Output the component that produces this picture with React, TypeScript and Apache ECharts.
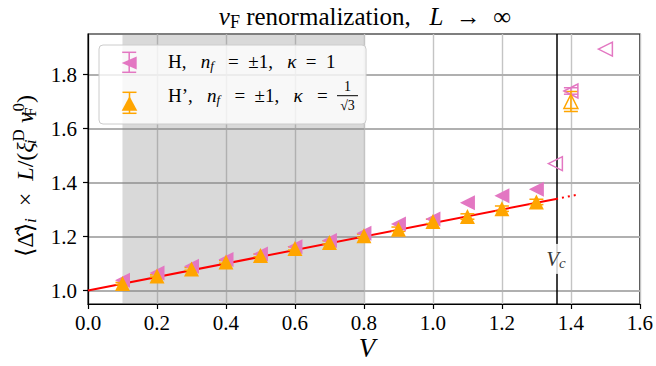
import React, { useEffect, useRef } from "react";
import * as echarts from "echarts";

const SERIF = "'Liberation Serif', 'DejaVu Serif', serif";

// ---- data ----
const V_FILLED = [0.1, 0.2, 0.3, 0.4, 0.5, 0.6, 0.7, 0.8, 0.9, 1.0, 1.1, 1.2, 1.3];
const H_FILLED = [1.038, 1.065, 1.09, 1.115, 1.135, 1.162, 1.185, 1.212, 1.246, 1.265, 1.325, 1.351, 1.375];
const H_OPEN_V = [1.355, 1.4, 1.5];
const H_OPEN = [1.47, 1.739, 1.894];
const H_OPEN_ERR = [0.0, 0.012, 0.0];
const HP_FILLED = [1.026, 1.054, 1.08, 1.106, 1.13, 1.156, 1.178, 1.203, 1.227, 1.256, 1.274, 1.303, 1.328];
const HP_FILLED_ERR = [0.004, 0.004, 0.005, 0.005, 0.005, 0.006, 0.006, 0.006, 0.008, 0.008, 0.01, 0.01, 0.01];
const HP_OPEN_V = [1.4];
const HP_OPEN = [1.7];
const HP_OPEN_ERR = [0.037];
const FIT_INTERCEPT = 1.0;
const FIT_SLOPE = 0.25;
const V_C = 1.357;
const FIT_DOTTED_END = 1.42;
const SHADE_RANGE = [0.1, 0.8];
const Y_TICKS = [1.0, 1.2, 1.4, 1.6, 1.8];
const VC_LABEL_Y = 1.117;

const PINK = "#e377c2";
const ORANGE = "#ffa500";

const fit = (v: number) => FIT_INTERCEPT + FIT_SLOPE * v;

const base = { fontFamily: SERIF, color: "#000" };
const mkRich = (fs: number) => ({
  r: { ...base, fontSize: fs },
  i: { ...base, fontSize: fs, fontStyle: "italic" },
  sub: { ...base, fontSize: Math.round(fs * 0.7), fontStyle: "italic", padding: [Math.round(fs * 0.45), 0, 0, 0] },
  subr: { ...base, fontSize: Math.round(fs * 0.7), padding: [Math.round(fs * 0.45), 0, 0, 0] },
  subw: { ...base, fontSize: Math.round(fs * 0.7), fontStyle: "italic", width: 1, padding: [Math.round(fs * 0.45), 0, 0, 0] },
  subrw: { ...base, fontSize: Math.round(fs * 0.7), width: 1, padding: [Math.round(fs * 0.45), 0, 0, 0] },
  sup: { ...base, fontSize: Math.round(fs * 0.7), padding: [0, 0, Math.round(fs * 0.55), 0] },
});

function errData(xs: number[], ys: number[], es: number[]) {
  return xs.map((x, k) => [x, ys[k] - es[k], ys[k] + es[k]]).filter((d) => d[2] - d[1] > 0);
}

function errSeries(data: number[][], color: string) {
  return {
    type: "custom",
    z: 3,
    silent: true,
    data,
    renderItem: (params: any, api: any) => {
      const x = api.value(0);
      const p1 = api.coord([x, api.value(1)]);
      const p2 = api.coord([x, api.value(2)]);
      const cap = 7;
      const st = { stroke: color, lineWidth: 1.5 };
      return {
        type: "group",
        children: [
          { type: "line", shape: { x1: p1[0], y1: p1[1], x2: p2[0], y2: p2[1] }, style: st },
          { type: "line", shape: { x1: p1[0] - cap, y1: p1[1], x2: p1[0] + cap, y2: p1[1] }, style: st },
          { type: "line", shape: { x1: p2[0] - cap, y1: p2[1], x2: p2[0] + cap, y2: p2[1] }, style: st },
        ],
      };
    },
  };
}

export default function App() {
  const ref = useRef<HTMLDivElement>(null);
  useEffect(() => {
    document.body.style.margin = "0";
    const chart = echarts.init(ref.current!, null, { renderer: "svg" });
    const richLegend = mkRich(19);
    const option: any = {
      animation: false,
      grid: { left: 88, right: 14, top: 34, bottom: 62, show: true, borderColor: "#000", borderWidth: 1.2, backgroundColor: "transparent" },
      xAxis: {
        type: "value",
        min: 0,
        max: 1.6,
        interval: 0.2,
        axisLine: { onZero: false, lineStyle: { color: "#000", width: 1.2 } },
        axisTick: { show: true, inside: false, length: 5, lineStyle: { color: "#000", width: 1.2 } },
        axisLabel: { color: "#000", fontFamily: SERIF, fontSize: 21, margin: 8, formatter: (v: number) => v.toFixed(1) },
        splitLine: { show: true, lineStyle: { color: "#c4c4c4", width: 1.4 } },
      },
      yAxis: {
        type: "value",
        min: 0.95,
        max: 1.95,
        axisLine: { show: true, onZero: false, lineStyle: { color: "#000", width: 1.2 } },
        axisTick: { show: true, inside: false, length: 5, customValues: Y_TICKS, lineStyle: { color: "#000", width: 1.2 } },
        axisLabel: { color: "#000", fontFamily: SERIF, fontSize: 21, margin: 11, customValues: Y_TICKS, formatter: (v: number) => v.toFixed(1) },
        splitLine: { show: false },
      },
      series: [
        {
          name: "grid",
          type: "line",
          data: [],
          silent: true,
          markLine: {
            z: 0,
            silent: true,
            symbol: "none",
            label: { show: false },
            lineStyle: { color: "#b0b0b0", width: 2, type: "solid" },
            data: Y_TICKS.map((y) => ({ yAxis: y })),
          },
          markArea: {
            z: 1,
            silent: true,
            itemStyle: { color: "rgba(128,128,128,0.3)" },
            data: [[{ xAxis: SHADE_RANGE[0] }, { xAxis: SHADE_RANGE[1] }]],
          },
        },
        {
          name: "fit",
          type: "line",
          z: 2,
          symbol: "none",
          silent: true,
          lineStyle: { color: "#ff0000", width: 2 },
          data: [[0, fit(0)], [V_C, fit(V_C)]],
          markLine: {
            z: 2,
            silent: true,
            symbol: "none",
            label: { show: false },
            lineStyle: { color: "#000", width: 1.5, type: "solid" },
            data: [{ xAxis: V_C }],
          },
        },
        {
          name: "fitdot",
          type: "line",
          z: 2,
          symbol: "none",
          silent: true,
          lineStyle: { color: "#ff0000", width: 2, type: [2, 4] },
          data: [[V_C, fit(V_C)], [FIT_DOTTED_END, fit(FIT_DOTTED_END)]],
        },
        errSeries(errData(H_OPEN_V, H_OPEN, H_OPEN_ERR), PINK),
        {
          name: "H",
          type: "scatter",
          z: 3,
          symbol: "triangle",
          symbolRotate: 90,
          symbolSize: 15,
          itemStyle: { color: PINK, opacity: 1 },
          data: V_FILLED.map((v, k) => [v, H_FILLED[k]]),
        },
        {
          name: "Hopen",
          type: "scatter",
          z: 3,
          symbol: "triangle",
          symbolRotate: 90,
          symbolSize: 14,
          itemStyle: { color: "rgba(255,255,255,0)", borderColor: PINK, borderWidth: 1.5, opacity: 1 },
          data: H_OPEN_V.map((v, k) => [v, H_OPEN[k]]),
        },
        errSeries(errData(V_FILLED, HP_FILLED, HP_FILLED_ERR), ORANGE),
        errSeries(errData(HP_OPEN_V, HP_OPEN, HP_OPEN_ERR), ORANGE),
        {
          name: "H'",
          type: "scatter",
          z: 4,
          symbol: "triangle",
          symbolSize: 15,
          itemStyle: { color: ORANGE, opacity: 1 },
          data: V_FILLED.map((v, k) => [v, HP_FILLED[k]]),
        },
        {
          name: "H'open",
          type: "scatter",
          z: 4,
          symbol: "triangle",
          symbolSize: 14,
          itemStyle: { color: "rgba(255,255,255,0)", borderColor: ORANGE, borderWidth: 1.5, opacity: 1 },
          data: HP_OPEN_V.map((v, k) => [v, HP_OPEN[k]]),
        },
        {
          name: "Vc",
          type: "scatter",
          z: 6,
          symbolSize: 1,
          silent: true,
          itemStyle: { color: "rgba(0,0,0,0)" },
          label: {
            show: true,
            position: "inside",
            formatter: "{i|V}{sub|c}",
            backgroundColor: "#fff",
            padding: [3, 3, 3, 3],
            rich: mkRich(21),
          },
          data: [[V_C, VC_LABEL_Y]],
        },
      ],
      graphic: [
        {
          type: "text",
          x: 365,
          y: 16,
          z: 50,
          style: {
            text: "{i|v}{subr|F}{r| renormalization,   }{i|L}{r|  →  ∞}",
            rich: mkRich(25),
            align: "center",
            verticalAlign: "middle",
          },
        },
        {
          type: "text",
          x: 367,
          y: 348,
          z: 50,
          style: {
            text: "{i|V}",
            rich: mkRich(27),
            align: "center",
            verticalAlign: "middle",
          },
        },
        {
          type: "text",
          x: 25,
          y: 176,
          z: 50,
          rotation: Math.PI / 2,
          style: {
            text: "{r|⟨Δ̂⟩}{sub|i}{r|  ×  }{i|L}{r|/(}{i|ξ}{subw|i}{sup|D}{r| }{i|v}{subrw|F}{sup|0}{r|)}",
            rich: mkRich(24),
            align: "center",
            verticalAlign: "middle",
          },
        },
        {
          type: "rect",
          z: 100,
          shape: { x: 99, y: 45, width: 267, height: 79, r: 4 },
          style: { fill: "rgba(255,255,255,0.8)", stroke: "#cccccc", lineWidth: 1 },
        },
        { type: "polygon", z: 101, shape: { points: [[121.7, 63], [136.7, 56.5], [136.7, 69.5]] }, style: { fill: PINK } },
        { type: "line", z: 101, shape: { x1: 129.2, y1: 52.3, x2: 129.2, y2: 72.3 }, style: { stroke: PINK, lineWidth: 1.5 } },
        { type: "line", z: 101, shape: { x1: 122.2, y1: 52.3, x2: 136.2, y2: 52.3 }, style: { stroke: PINK, lineWidth: 1.5 } },
        { type: "line", z: 101, shape: { x1: 122.2, y1: 72.3, x2: 136.2, y2: 72.3 }, style: { stroke: PINK, lineWidth: 1.5 } },
        { type: "polygon", z: 101, shape: { points: [[129.5, 96.2], [121.7, 110.7], [137.3, 110.7]] }, style: { fill: ORANGE } },
        { type: "line", z: 101, shape: { x1: 129.5, y1: 92.3, x2: 129.5, y2: 113.3 }, style: { stroke: ORANGE, lineWidth: 1.5 } },
        { type: "line", z: 101, shape: { x1: 122.5, y1: 92.3, x2: 136.5, y2: 92.3 }, style: { stroke: ORANGE, lineWidth: 1.5 } },
        { type: "line", z: 101, shape: { x1: 122.5, y1: 113.3, x2: 136.5, y2: 113.3 }, style: { stroke: ORANGE, lineWidth: 1.5 } },
        {
          type: "text",
          z: 101,
          x: 168,
          y: 61,
          style: {
            text: "{r|H,   }{i|n}{sub|f}{r|   =  ±1,   }{i|κ}{r|  =  1}",
            rich: richLegend,
            align: "left",
            verticalAlign: "middle",
          },
        },
        {
          type: "text",
          z: 101,
          x: 168,
          y: 95,
          style: {
            text: "{r|H’,   }{i|n}{sub|f}{r|   =  ±1,   }{i|κ}{r|   =}",
            rich: richLegend,
            align: "left",
            verticalAlign: "middle",
          },
        },
        {
          type: "text",
          z: 101,
          x: 347.5,
          y: 86.5,
          style: { text: "1", font: `14px ${SERIF}`, fill: "#000", align: "center", verticalAlign: "middle" },
        },
        { type: "line", z: 101, shape: { x1: 337, y1: 95.7, x2: 358, y2: 95.7 }, style: { stroke: "#000", lineWidth: 1 } },
        {
          type: "text",
          z: 101,
          x: 347.5,
          y: 105,
          style: { text: "√3", font: `14px ${SERIF}`, fill: "#000", align: "center", verticalAlign: "middle" },
        },
      ],
    };
    chart.setOption(option);
    return () => chart.dispose();
  }, []);
  return <div ref={ref} style={{ position: "absolute", left: 0, top: 0, width: 656, height: 366 }} />;
}
